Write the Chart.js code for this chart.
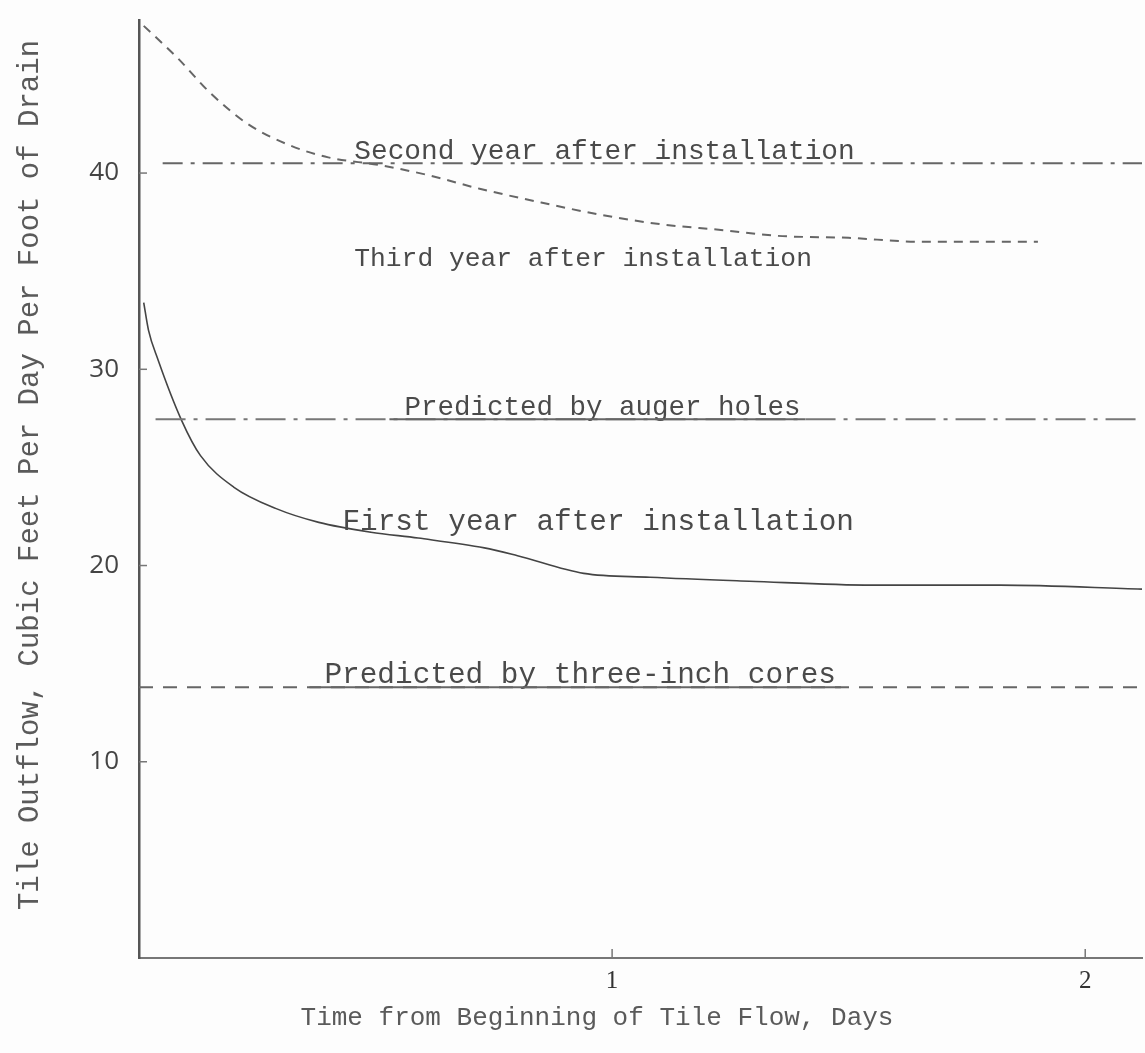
<!DOCTYPE html>
<html>
<head>
<meta charset="utf-8">
<script src="https://cdn.jsdelivr.net/npm/chart.js@4"></script>
<style>
html, body { margin: 0; padding: 0; background: #fdfdfd; }
#wrap { width: 1145px; height: 1053px; }
</style>
</head>
<body>
<div id="wrap"><canvas id="chart"></canvas></div>
<script>
// tick values
const dayTicks = [1, 2];
const flowTicks = [10, 20, 30, 40];

// first year after installation (solid curve)
const firstYearDays = [0.01, 0.02, 0.04, 0.09, 0.13, 0.20, 0.29, 0.38, 0.49, 0.59, 0.73, 0.80, 0.94, 1.08, 1.29, 1.55, 1.82, 2.12];
const firstYearFlow = [33.4, 32.0, 30.5, 27.4, 25.6, 24.0, 22.9, 22.2, 21.7, 21.4, 20.9, 20.5, 19.6, 19.4, 19.2, 19.0, 19.0, 18.8];

// third year after installation (dashed curve)
const thirdYearDays = [0.01, 0.08, 0.15, 0.23, 0.32, 0.40, 0.51, 0.61, 0.72, 0.85, 0.97, 1.10, 1.23, 1.35, 1.50, 1.65, 1.77, 1.90];
const thirdYearFlow = [47.5, 45.9, 44.1, 42.5, 41.4, 40.8, 40.4, 39.9, 39.2, 38.5, 37.9, 37.4, 37.1, 36.8, 36.7, 36.5, 36.5, 36.5];

// flat lines
const secondYearDays = [0.05, 2.12];
const secondYearFlow = [40.5, 40.5];
const augerDays = [0.035, 2.12];
const augerFlow = [27.45, 27.45];
const coresDays = [0, 2.12];
const coresFlow = [13.8, 13.8];

// labels written on the plot
const noteTexts = ["Second year after installation", "Third year after installation", "Predicted by auger holes", "First year after installation", "Predicted by three-inch cores"];
const noteDays = [0.455, 0.455, 0.561, 0.43, 0.392];
const noteFlow = [40.5, 35.05, 27.45, 21.6, 13.8];
const noteUnderline = [false, false, true, false, true];

const pts = (xs, ys) => xs.map((x, i) => ({x: x, y: ys[i]}));

const mono = "'Liberation Mono', 'DejaVu Sans Mono', monospace";
const noteFontSize = [27.8, 26.3, 27.5, 29.4, 29.4];

const notesPlugin = {
	id: "notes",
	afterDatasetsDraw(chart) {
		const ctx = chart.ctx;
		const xs = chart.scales.x, ys = chart.scales.y;
		ctx.save();
		ctx.textBaseline = "alphabetic";
		noteTexts.forEach((t, i) => {
			const px = xs.getPixelForValue(noteDays[i]);
			const py = ys.getPixelForValue(noteFlow[i]);
			ctx.font = noteFontSize[i] + "px " + mono;
			const w = ctx.measureText(t).width;
			ctx.fillStyle = "#4a4a4a";
			ctx.fillText(t, px, py - 4);
			if (noteUnderline[i]) {
				ctx.strokeStyle = "#666";
				ctx.lineWidth = 2;
				ctx.beginPath();
				ctx.moveTo(px - 15, py);
				ctx.lineTo(px + w + 5, py);
				ctx.stroke();
			}
		});
		// small tick marks inside the axes
		ctx.strokeStyle = "#777";
		ctx.lineWidth = 1.5;
		dayTicks.forEach(v => {
			const px = xs.getPixelForValue(v);
			ctx.beginPath();
			ctx.moveTo(px, ys.bottom);
			ctx.lineTo(px, ys.bottom - 9);
			ctx.stroke();
		});
		flowTicks.forEach(v => {
			const py = ys.getPixelForValue(v);
			ctx.beginPath();
			ctx.moveTo(xs.left, py);
			ctx.lineTo(xs.left + 8, py);
			ctx.stroke();
		});
		// axis titles
		ctx.fillStyle = "#5a5a5a";
		ctx.textAlign = "center";
		ctx.textBaseline = "middle";
		ctx.font = "26px " + mono;
		ctx.fillText("Time from Beginning of Tile Flow, Days", 597, 1018);
		ctx.translate(30, 475);
		ctx.rotate(-Math.PI / 2);
		ctx.font = "29px " + mono;
		ctx.fillText("Tile Outflow, Cubic Feet Per Day Per Foot of Drain", 0, 0);
		ctx.restore();
	}
};

new Chart(document.getElementById("chart"), {
	type: "line",
	data: {
		datasets: [
			{ label: "Second year after installation", data: pts(secondYearDays, secondYearFlow), borderColor: "#666", borderWidth: 2, borderDash: [20, 8, 4, 8] },
			{ label: "Third year after installation", data: pts(thirdYearDays, thirdYearFlow), borderColor: "#666", borderWidth: 2, borderDash: [9, 7], tension: 0.4, cubicInterpolationMode: "monotone" },
			{ label: "Predicted by auger holes", data: pts(augerDays, augerFlow), borderColor: "#777", borderWidth: 2, borderDash: [30, 8, 4, 8] },
			{ label: "First year after installation", data: pts(firstYearDays, firstYearFlow), borderColor: "#444", borderWidth: 1.6, tension: 0.4, cubicInterpolationMode: "monotone" },
			{ label: "Predicted by three-inch cores", data: pts(coresDays, coresFlow), borderColor: "#666", borderWidth: 2, borderDash: [14, 10] }
		]
	},
	options: {
		responsive: true,
		maintainAspectRatio: false,
		animation: false,
		layout: { padding: { top: 20, right: 3, left: 0, bottom: 0 } },
		elements: { point: { radius: 0 } },
		plugins: { legend: { display: false }, tooltip: { enabled: false } },
		scales: {
			x: {
				type: "linear",
				min: 0,
				max: 2.12,
				afterBuildTicks: s => { s.ticks = dayTicks.map(v => ({value: v})); },
				afterFit: s => { s.height = 95; s.paddingLeft = 0; s.paddingRight = 0; },
				grid: { display: false },
				border: { display: true, color: "#777", width: 2 },
				ticks: { color: "#333", padding: 0, font: { family: "'Liberation Serif', serif", size: 25 } }
			},
			y: {
				type: "linear",
				min: 0,
				max: 47.8,
				afterBuildTicks: s => { s.ticks = flowTicks.map(v => ({value: v})); },
				afterFit: s => { s.width = 139; s.paddingTop = 0; s.paddingBottom = 0; },
				grid: { display: false },
				border: { display: true, color: "#555", width: 2.5 },
				ticks: { color: "#444", padding: 12, font: { family: "'Open Sans', sans-serif", size: 26 } }
			}
		}
	},
	plugins: [notesPlugin]
});
</script>
</body>
</html>
